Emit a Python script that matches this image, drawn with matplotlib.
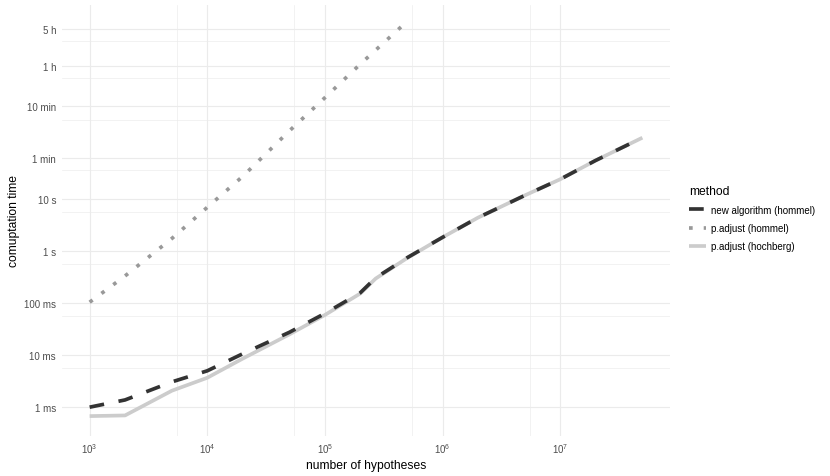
import numpy as np
import matplotlib
matplotlib.use('Agg')
import matplotlib.pyplot as plt
from matplotlib.ticker import FixedLocator, FixedFormatter, NullFormatter
from matplotlib.lines import Line2D

# ---------------- data ----------------
n_hyp = [1e3, 2e3, 5e3, 1e4, 2e4, 5e4, 1e5, 2e5, 2.7e5, 5e5, 1e6, 2e6, 5e6, 1e7, 2e7, 5e7]
t_new = [0.00098, 0.00135, 0.0030, 0.0049, 0.0104, 0.027, 0.062, 0.155, 0.30, 0.73,
         1.8, 4.3, 11.5, 23.5, 54, 148]
t_hochberg = [0.00066, 0.00068, 0.00203, 0.0036, 0.0084, 0.0246, 0.058, 0.15, 0.29, 0.72,
              1.8, 4.3, 11.5, 23.5, 54, 148]
n_hommel = [1e3, 2e3, 5e3, 1e4, 2e4, 5e4, 1e5, 2e5, 4.7e5]
t_hommel = [0.102, 0.326, 1.71, 6.8, 26.7, 201, 870, 3845, 22400]

methods = ['new algorithm (hommel)', 'p.adjust (hommel)', 'p.adjust (hochberg)']

x_breaks = [1e3, 1e4, 1e5, 1e6, 1e7]
x_labels = [r'$\mathregular{10^{3}}$', r'$\mathregular{10^{4}}$', r'$\mathregular{10^{5}}$',
            r'$\mathregular{10^{6}}$', r'$\mathregular{10^{7}}$']
y_breaks = [0.001, 0.01, 0.1, 1, 10, 60, 600, 3600, 18000]
y_labels = ['1 ms', '10 ms', '100 ms', '1 s', '10 s', '1 min', '10 min', '1 h', '5 h']

# ---------------- style ----------------
plt.rcParams['font.family'] = ['Liberation Sans', 'DejaVu Sans']
plt.rcParams['mathtext.fontset'] = 'custom'
plt.rcParams['mathtext.rm'] = 'Liberation Sans'
plt.rcParams['mathtext.it'] = 'Liberation Sans:italic'
plt.rcParams['mathtext.bf'] = 'Liberation Sans:bold'

W, H = 830, 477
fig = plt.figure(figsize=(W / 100, H / 100), dpi=100)
ax = fig.add_axes([62 / W, 1 - 436.7 / H, (670 - 62) / W, (436.7 - 5.7) / H])

c_new, c_hommel, c_hoch = '#333333', '#999999', '#CCCCCC'
lw = 2.65

ax.plot(n_hyp, t_hochberg, color=c_hoch, lw=lw, ls='-', solid_capstyle='butt', zorder=3)
ax.plot(n_hommel, t_hommel, color=c_hommel, lw=lw, ls=(0, (1, 3)), dash_capstyle='butt', zorder=4)
ax.plot(n_hyp, t_new, color=c_new, lw=lw, ls=(0, (4, 4)), dash_capstyle='butt', zorder=5)

ax.set_xscale('log')
ax.set_yscale('log')

# limits with 5% expansion in log space (like ggplot)
all_x = np.log10(np.concatenate([n_hyp, n_hommel]))
all_y = np.log10(np.concatenate([t_new, t_hochberg, t_hommel]))
xr = all_x.max() - all_x.min()
yr = all_y.max() - all_y.min()
ax.set_xlim(10 ** (all_x.min() - 0.05 * xr), 10 ** (all_x.max() + 0.05 * xr))
ax.set_ylim(10 ** (all_y.min() - 0.05 * yr), 10 ** (all_y.max() + 0.05 * yr))

# minor breaks: linear midpoints between major breaks (as ggplot does)
x_minor = list((np.array(x_breaks[:-1]) + np.array(x_breaks[1:])) / 2)
y_minor = list((np.array(y_breaks[:-1]) + np.array(y_breaks[1:])) / 2)

ax.xaxis.set_major_locator(FixedLocator(x_breaks))
ax.xaxis.set_major_formatter(FixedFormatter(x_labels))
ax.xaxis.set_minor_locator(FixedLocator(x_minor))
ax.xaxis.set_minor_formatter(NullFormatter())
ax.yaxis.set_major_locator(FixedLocator(y_breaks))
ax.yaxis.set_major_formatter(FixedFormatter(y_labels))
ax.yaxis.set_minor_locator(FixedLocator(y_minor))
ax.yaxis.set_minor_formatter(NullFormatter())

ax.grid(which='major', color='#EBEBEB', lw=0.85, zorder=0)
ax.grid(which='minor', color='#EBEBEB', lw=0.45, zorder=0)
ax.set_axisbelow(True)
for s in ax.spines.values():
    s.set_visible(False)
ax.tick_params(which='both', length=0)
ax.tick_params(axis='y', pad=4.3, labelsize=7.0, labelcolor='#4D4D4D')
ax.tick_params(axis='x', pad=4.0, labelsize=7.0, labelcolor='#4D4D4D')

ax.set_xlabel('number of hypotheses', fontsize=8.7, color='black', labelpad=3)
ax.set_ylabel('comuptation time', fontsize=8.7, color='black', labelpad=3)

handles = [
    Line2D([], [], color=c_new, lw=lw, ls=(0, (4, 4)), dash_capstyle='butt'),
    Line2D([], [], color=c_hommel, lw=lw, ls=(0, (1, 3)), dash_capstyle='butt'),
    Line2D([], [], color=c_hoch, lw=lw, ls='-', solid_capstyle='butt'),
]
leg = fig.legend(handles, methods, title='method', loc='center left',
                 bbox_to_anchor=(689 / W, 1 - 219 / H), bbox_transform=fig.transFigure,
                 frameon=False, fontsize=7.0, title_fontsize=8.7, alignment='left',
                 handlelength=1.75, handletextpad=0.5, labelspacing=0.85,
                 borderpad=0, borderaxespad=0)

fig.savefig('out.png', dpi=100)
